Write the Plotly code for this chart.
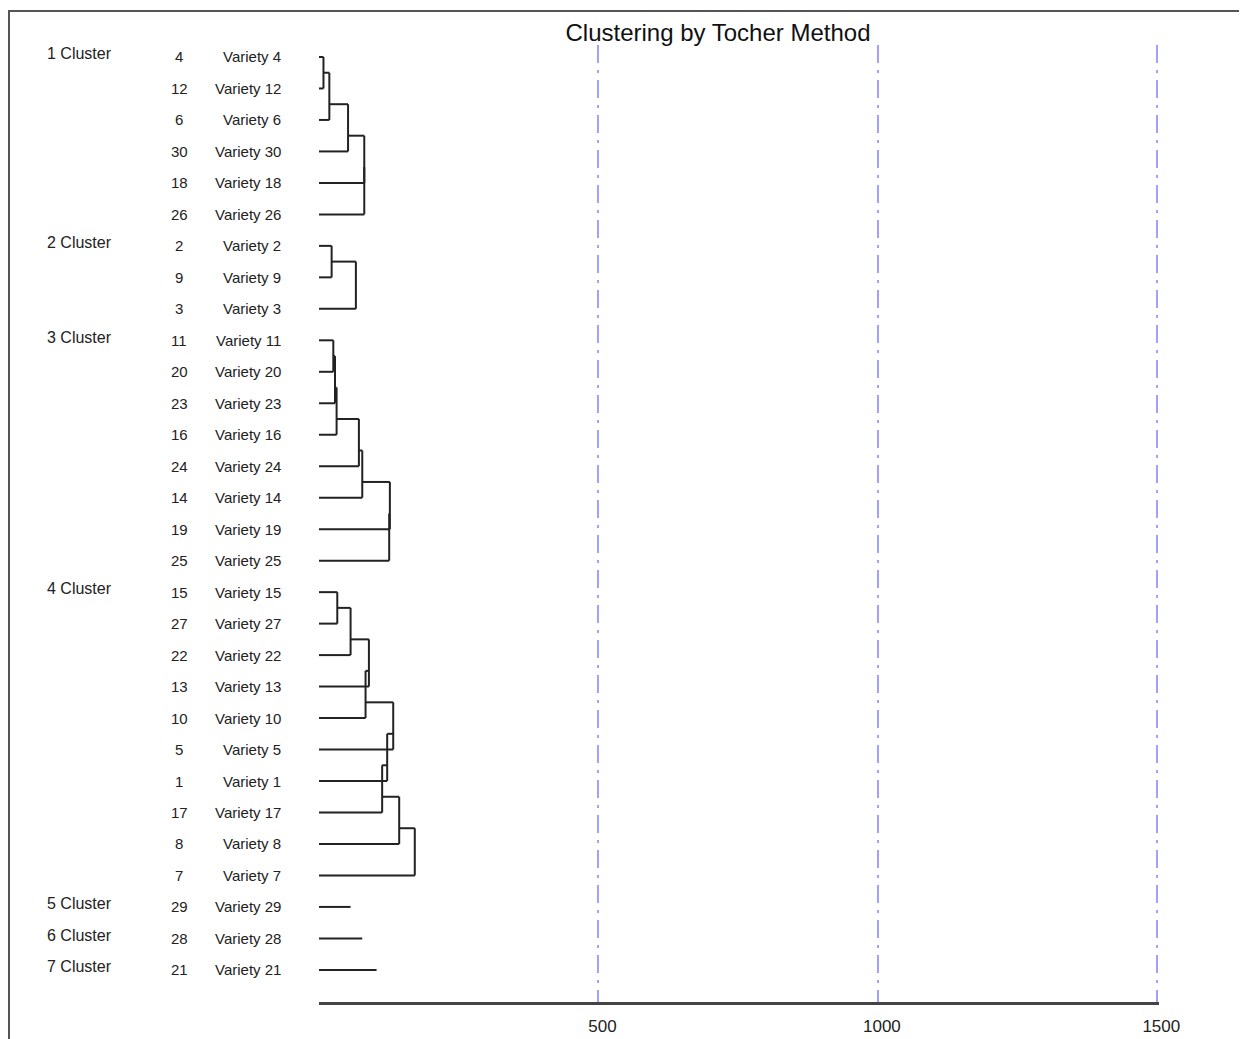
import plotly.graph_objects as go

# ---------------- data ----------------
cluster_names = ["1 Cluster", "2 Cluster", "3 Cluster", "4 Cluster",
                 "5 Cluster", "6 Cluster", "7 Cluster"]
cluster_members = [
    [4, 12, 6, 30, 18, 26],
    [2, 9, 3],
    [11, 20, 23, 16, 24, 14, 19, 25],
    [15, 27, 22, 13, 10, 5, 1, 17, 8, 7],
    [29],
    [28],
    [21],
]
# sequential merge heights inside each cluster (leaf k+1 joins the group at height h[k])
# single-variety clusters: length of the stub line
cluster_heights = [
    [8, 18.5, 52, 81, 81],
    [22.6, 66],
    [25.6, 28.6, 31.5, 71.4, 77.4, 126.8, 125.6],
    [32.7, 56.5, 89.3, 83.3, 132.8, 122, 113, 143.5, 171.4],
    [56.5],
    [77.4],
    [103],
]
tick_vals = [500, 1000, 1500]
tick_text = ["500", "1000", "1500"]
title_text = "Clustering by Tocher Method"

# ---------------- build dendrogram segments ----------------
xs, ys = [], []

def seg(x0, y0, x1, y1):
    xs.extend([x0, x1, None])
    ys.extend([y0, y1, None])

row = 0
leaf_rows = []
for members, heights in zip(cluster_members, cluster_heights):
    rows = [row + i + 1 for i in range(len(members))]
    leaf_rows.append(rows)
    if len(members) == 1:
        seg(0, rows[0], heights[0], rows[0])
    else:
        node_y, node_h = rows[0], 0
        for k, H_ in enumerate(heights):
            r = rows[k + 1]
            seg(node_h, node_y, H_, node_y)
            seg(0, r, H_, r)
            seg(H_, node_y, H_, r)
            node_y = (rows[k] + rows[k + 1]) / 2.0
            node_h = H_
    row += len(members)

FONT = "Liberation Sans, Arial, sans-serif"

fig = go.Figure()
fig.add_trace(go.Scatter(x=xs, y=ys, mode="lines",
                         line=dict(color="#222222", width=2),
                         hoverinfo="skip", showlegend=False))

# ---------------- layout geometry (page pixels, page has an 8px body margin) ----------------
OFF = 8
W, H = 1247 - OFF, 1039 - OFF
PL, PR, PT, PB = 319, 1159, 45, 1002          # plot area in page pixels
L, R, T, B = PL - OFF, W - (PR - OFF), PT - OFF, H - (PB - OFF)
pw, ph = W - L - R, H - T - B

def px_to_paper_x(px):
    return (px - PL) / pw

def px_to_paper_y(py):
    return (PB - py) / ph

annotations = []
for name, members, rows in zip(cluster_names, cluster_members, leaf_rows):
    annotations.append(dict(text=name, x=px_to_paper_x(45), xref="paper",
                            y=rows[0] - 0.1, yref="y", xanchor="left",
                            yanchor="middle", showarrow=False,
                            font=dict(size=16, color="#222222", family=FONT)))
    for m, r in zip(members, rows):
        annotations.append(dict(text=str(m), x=px_to_paper_x(179), xref="paper",
                                y=r, yref="y", xanchor="center", yanchor="middle",
                                showarrow=False,
                                font=dict(size=15, color="#222222", family=FONT)))
        annotations.append(dict(text="Variety " + str(m), x=px_to_paper_x(283),
                                xref="paper", y=r, yref="y", xanchor="right",
                                yanchor="middle", showarrow=False,
                                font=dict(size=15, color="#222222", family=FONT)))

shapes = [
    dict(type="line", xref="paper", yref="paper",
         x0=px_to_paper_x(9), x1=px_to_paper_x(9),
         y0=px_to_paper_y(11), y1=px_to_paper_y(1040),
         line=dict(color="#555555", width=2)),
    dict(type="line", xref="paper", yref="paper",
         x0=px_to_paper_x(8), x1=px_to_paper_x(1247),
         y0=px_to_paper_y(11), y1=px_to_paper_y(11),
         line=dict(color="#555555", width=2)),
]

fig.update_layout(
    width=W, height=H,
    margin=dict(l=L, r=R, t=T, b=B, pad=0, autoexpand=False),
    paper_bgcolor="white", plot_bgcolor="white",
    title=dict(text=title_text, x=(718 - OFF) / W, xref="container", xanchor="center",
               y=1 - (33 - OFF) / H, yref="container", yanchor="middle",
               font=dict(size=24, color="#111111", family=FONT)),
    xaxis=dict(range=[0, 1503], tickvals=tick_vals, ticktext=tick_text,
               automargin=False,
               showgrid=True, gridcolor="rgba(120,120,255,0.7)", gridwidth=1.5,
               griddash="18px,7px,3px,7px", zeroline=False,
               showline=True, linecolor="#444444", linewidth=3,
               ticks="outside", ticklen=7, tickcolor="rgba(0,0,0,0)",
               ticklabelshift=4,
               tickfont=dict(size=17, color="#222222", family=FONT),
               fixedrange=True),
    yaxis=dict(range=[31.02, 0.619], visible=False, showgrid=False,
               zeroline=False, fixedrange=True, automargin=False),
    annotations=annotations,
    shapes=shapes,
    showlegend=False,
)

fig.write_html("out.html")
